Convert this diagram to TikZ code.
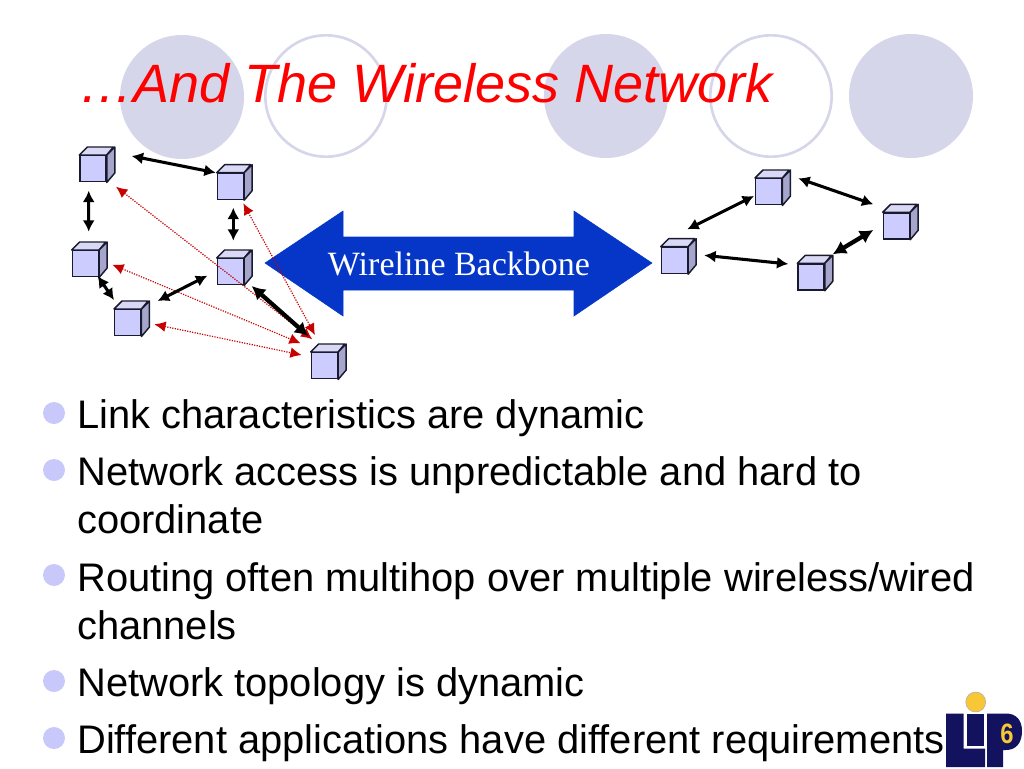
\documentclass[tikz,border=0pt]{standalone}
\usepackage{fontspec}
\setmainfont{Liberation Sans}
\newfontfamily\serifface{Liberation Serif}
\usetikzlibrary{arrows.meta,calc}
\definecolor{discfill}{HTML}{D6D6EA}
\definecolor{cubefront}{HTML}{CCCCFF}
\definecolor{cubetop}{HTML}{D9D9F5}
\definecolor{cubeside}{HTML}{A6A6CC}
\definecolor{cubeline}{HTML}{1A1A2E}
\definecolor{backbone}{HTML}{0636C8}
\definecolor{linkred}{HTML}{C80000}
\definecolor{bulletfill}{HTML}{C8C8FA}
\definecolor{lipnavy}{HTML}{12125E}
\definecolor{lipgold}{HTML}{F7C736}
\tikzset{
  x=0.75pt,y=-0.75pt,
  disc/.style={circle,fill=discfill,minimum size=93pt,inner sep=0pt},
  ring/.style={circle,draw=discfill,line width=2pt,minimum size=91pt,inner sep=0pt},
  cube/.style={rectangle,minimum size=19.5pt,inner sep=0pt,anchor=north west,draw=cubeline,line width=1.1pt,fill=cubefront,
    append after command={\pgfextra{\let\cn\tikzlastnode
      \draw[cubeline,line width=1.1pt,fill=cubetop,line join=round] (\cn.north west)--++(8,-8)--++(26,0)--(\cn.north east)--cycle;
      \draw[cubeline,line width=1.1pt,fill=cubeside,line join=round] (\cn.north east)--++(8,-8)--++(0,26)--(\cn.south east)--cycle;
    }}},
  link/.style={black,line width=2.3pt,{Latex[length=8.5pt,width=9pt]}-{Latex[length=8.5pt,width=9pt]}},
  thicklink/.style={black,line width=3.2pt,{Latex[length=10pt,width=11pt]}-{Latex[length=10pt,width=11pt]}},
  wireless/.style={linkred,line width=0.9pt,densely dotted,{Latex[length=8.5pt,width=8pt,fill=linkred]}-{Latex[length=8.5pt,width=8pt,fill=linkred]}},
  titletext/.style={red,font=\fontsize{40.5}{48}\selectfont\itshape,anchor=base west,inner sep=0pt},
  bodytext/.style={black,font=\fontsize{29.9}{34}\selectfont,anchor=base west,inner sep=0pt},
  bullet/.style={circle,fill=bulletfill,minimum size=16.5pt,inner sep=0pt},
}
\begin{document}
\begin{tikzpicture}
\useasboundingbox (0,0) rectangle (1024,768);
% discs
\node[disc] (d1) at (182,97) {};
\node[ring] (d2) at (326,96) {};
\node[disc] (d3) at (606,96) {};
\node[ring] (d4) at (771,96) {};
\node[disc] (d5) at (911,96) {};
\node[titletext] (title) at (79.5,102) {…And The Wireless Network};
% backbone
\filldraw[backbone] (265,263)--(343,211)--(343,237)--(574,237)--(574,211)--(652,263)--(574,316)--(574,290)--(343,290)--(343,316)--cycle;
\node[white,font=\fontsize{25.5}{28}\selectfont\serifface,anchor=base] (bb) at (459,275) {Wireline Backbone};
% cubes
\node[cube] (c1) at (79.3,155) {};
\node[cube] (c2) at (216.7,172.7) {};
\node[cube] (c3) at (71.7,250) {};
\node[cube] (c4) at (114,309) {};
\node[cube] (c5) at (216.7,258) {};
\node[cube] (c6) at (310.7,352) {};
\node[cube] (c7) at (660.7,246.7) {};
\node[cube] (c8) at (755,178) {};
\node[cube] (c9) at (882.7,212.3) {};
\node[cube] (c10) at (797.3,263.3) {};
% wireless links
\draw[wireless] ($(c1.north west)+(36.7,31.7)$) -- ($(c6.north west)+(1.6,-12.7)$);
\draw[wireless] ($(c2.north west)+(26.6,30.6)$) -- ($(c6.north west)+(4.3,-17)$);
\draw[wireless] ($(c3.north west)+(40.6,14.7)$) -- ($(c6.north west)+(-10,-8.7)$);
\draw[wireless] ($(c4.north west)+(40.3,15.3)$) -- ($(c6.north west)+(-9,3)$);
% wired links
\draw[link] ($(c1.north west)+(52.4,1)$) -- ($(c2.north west)+(-1,0)$);
\draw[link] ($(c1.north west)+(9.4,35.7)$) -- ($(c3.north west)+(17,-18.3)$);
\draw[link] ($(c2.north west)+(16.6,35)$) -- ($(c5.north west)+(16.6,-17.3)$);
\draw[link] ($(c3.north west)+(26,26)$) -- ($(c4.north west)+(0,-9)$);
\draw[link] ($(c4.north west)+(43.7,-8)$) -- ($(c5.north west)+(-9.4,17.7)$);
\draw[thicklink] ($(c5.north west)+(35,28)$) -- ($(c6.north west)+(-2.4,-16)$);
\draw[link] ($(c7.north west)+(26.6,-17.4)$) -- ($(c8.north west)+(-1,18)$);
\draw[link] ($(c8.north west)+(43.3,0.3)$) -- ($(c9.north west)+(-9.4,-8)$);
\draw[thicklink] ($(c10.north west)+(35.4,-9)$) -- ($(c9.north west)+(-9.4,17.7)$);
\draw[link] ($(c7.north west)+(43.6,8.6)$) -- ($(c10.north west)+(-9,0.7)$);
% bullets and text
\node[bullet] (b1) at (54,413) {};
\node[bullet] (b2) at (54,470) {};
\node[bullet] (b3) at (54,575) {};
\node[bullet] (b4) at (54,681) {};
\node[bullet] (b5) at (54,738) {};
\node[bodytext] (t1) at (77,428) {Link characteristics are dynamic};
\node[bodytext] (t2) at (77,485) {Network access is unpredictable and hard to};
\node[bodytext] (t2b) at (77,533) {coordinate};
\node[bodytext] (t3) at (77,591) {Routing often multihop over multiple wireless/wired};
\node[bodytext] (t3b) at (77,639) {channels};
\node[bodytext] (t4) at (77,696) {Network topology is dynamic};
\node[bodytext] (t5) at (77,753) {Different applications have different requirements};
% logo
\fill[lipgold,draw=lipnavy!40,line width=0.3pt] (975.7,702) circle[radius=10];
\fill[lipnavy] (946,713.5)--(963.5,713.5)--(963.5,748.5)--(985,748.5)--(985,767)--(946,767)--cycle;
\fill[lipnavy] (967,713.5)--(984,713.5)--(984,746)--(967,746)--cycle;
\fill[lipnavy] (987,713.5)--(1006,713.5) .. controls (1016,713.5) and (1022,720) .. (1022,731) .. controls (1022,743) and (1016,750) .. (1006,750)--(1003,750)--(1003,767)--(987,767)--cycle;
\node[lipgold,font=\fontsize{21}{21}\selectfont\bfseries,inner sep=0pt,xscale=0.85] (six) at (1007,734) {6};
\end{tikzpicture}
\end{document}
